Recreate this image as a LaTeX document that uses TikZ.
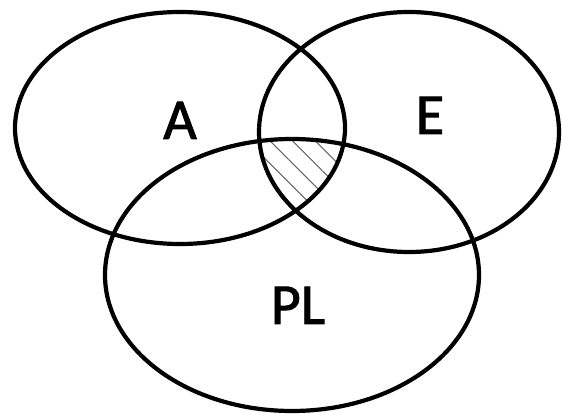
\documentclass[tikz,border=0pt]{standalone}
\usepackage{fontspec}
\setmainfont{Carlito}[FakeBold=1.6]
\usetikzlibrary{patterns.meta}

\begin{document}
\begin{tikzpicture}[x=1pt,y=-1pt,
    set/.style={draw=black,line width=4.2pt},
    lbl/.style={font=\fontsize{58}{58}\selectfont,anchor=base,inner sep=0pt},
    hatch/.style={pattern={Lines[angle=-45,distance=16pt,line width=1.1pt]},pattern color=black!60}]
  \useasboundingbox (0,0) rectangle (563,414);
  \coordinate (cA) at (180,128);
  \coordinate (cE) at (409,132);
  \coordinate (cPL) at (292,275);
  % part in A, E and PL
  \begin{scope}
    \clip (cA) ellipse [x radius=165, y radius=116];
    \clip (cE) ellipse [x radius=150, y radius=120];
    \fill[hatch] (cPL) ellipse [x radius=187, y radius=136];
  \end{scope}
  \draw[set] (cA) ellipse [x radius=165, y radius=116];
  \draw[set] (cE) ellipse [x radius=150, y radius=120];
  \draw[set] (cPL) ellipse [x radius=187, y radius=136];
  \node[lbl] (a) at (180,139) {A};
  \node[lbl] (e) at (430,134) {E};
  \node[lbl] (pl) at (298,324) {PL};
\end{tikzpicture}
\end{document}
